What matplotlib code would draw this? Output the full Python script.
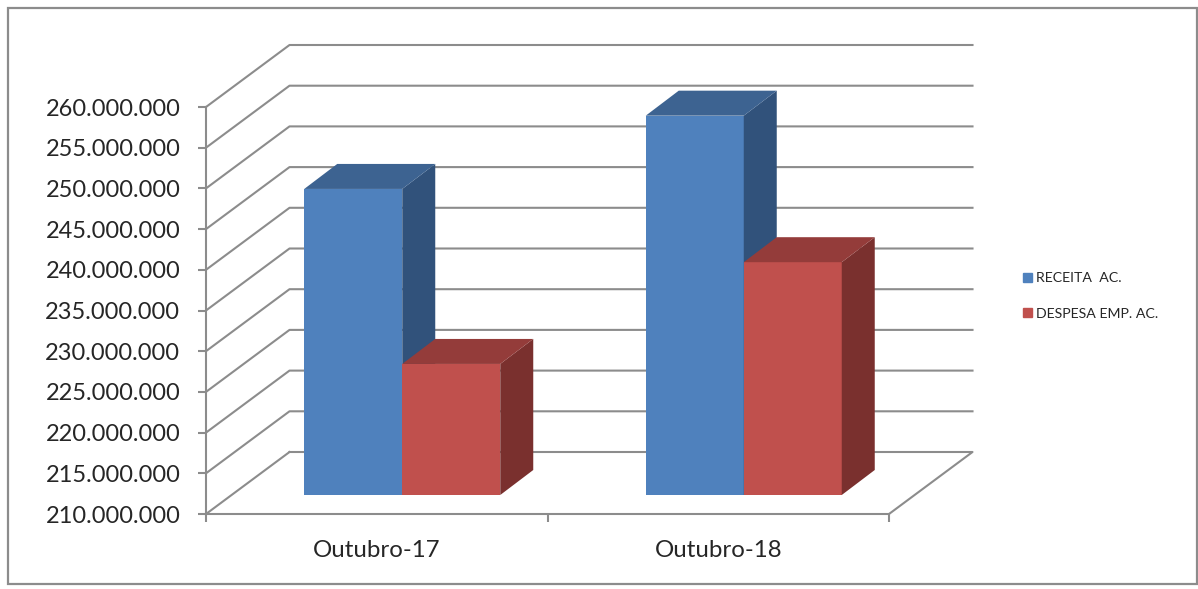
import matplotlib.pyplot as plt
from matplotlib.patches import Rectangle, Patch

# Given data
categories = ['Outubro-17', 'Outubro-18']
receita = [247600000, 256600000]
despesa = [226100000, 238600000]
y_ticks = [210000000 + 5000000 * i for i in range(11)]
y_labels = ['210.000.000', '215.000.000', '220.000.000', '225.000.000', '230.000.000', '235.000.000',
            '240.000.000', '245.000.000', '250.000.000', '255.000.000', '260.000.000']

W, H = 1198, 589
GRAY = '#8c8c8c'
TEXT = '#262626'

plt.rcParams['font.family'] = ['Lato', 'DejaVu Sans']

fig = plt.figure(figsize=(W / 100, H / 100), dpi=100)

# Chart border
fig.add_artist(Rectangle((8 / W, 1 - 584 / H), 1189 / W, 576 / H, transform=fig.transFigure,
                         fill=False, edgecolor=GRAY, linewidth=1.6))

# Front plane of the fake 3D box
ax = fig.add_axes([206 / W, 1 - 514 / H, 683 / W, 407 / H])
ax.set_xlim(0, 2)
ax.set_ylim(210000000, 260000000)
for s in ['top', 'right']:
    ax.spines[s].set_visible(False)
for s in ['left', 'bottom']:
    ax.spines[s].set_color(GRAY)
    ax.spines[s].set_linewidth(1.5)

# Depth of the box and of the bars, in data units
unit_x = 2 / 683
unit_y = 50000000 / 407
depth_x = 83.5 * unit_x
depth_y = 62 * unit_y
bar_x = 25.5 * unit_x
bar_y = 19 * unit_y
bar_dx = 33 * unit_x
bar_dy = 25 * unit_y
bar_w = 98 * unit_x

# Walls
for t in y_ticks:
    if t == y_ticks[0]:
        ax.plot([0, depth_x], [t, t + depth_y], color=GRAY, lw=1.5, clip_on=False, zorder=1)
        ax.plot([depth_x, 2 + depth_x, 2], [t + depth_y, t + depth_y, t], color=GRAY, lw=1.5,
                clip_on=False, zorder=1)
    else:
        ax.plot([0, depth_x, 2 + depth_x], [t, t + depth_y, t + depth_y], color=GRAY, lw=1.5,
                clip_on=False, zorder=1)


# Function to draw one bar with its side and top
def draw_bar(left, value, front, top, side):
    base = y_ticks[0] + bar_y
    right = left + bar_w
    ax.bar(left, value - y_ticks[0], bar_w, bottom=base, align='edge', color=front, zorder=3, clip_on=False)
    ax.fill([right, right + bar_dx, right + bar_dx, right],
            [base, base + bar_dy, value + bar_y + bar_dy, value + bar_y],
            color=side, lw=0, zorder=3, clip_on=False)
    ax.fill([left, left + bar_dx, right + bar_dx, right],
            [value + bar_y, value + bar_y + bar_dy, value + bar_y + bar_dy, value + bar_y],
            color=top, lw=0, zorder=3, clip_on=False)


for i in range(len(categories)):
    left = i + 0.5 + bar_x - bar_w
    draw_bar(left, receita[i], '#4f81bd', '#3d6391', '#31527b')
    draw_bar(left + bar_w, despesa[i], '#c0504d', '#943c3a', '#7a302e')

ax.set_yticks(y_ticks)
ax.set_yticklabels(y_labels, fontsize=17, color=TEXT)
ax.set_xticks([0, 1, 2])
ax.set_xticklabels([])
ax.set_xticks([0.5, 1.5], categories, minor=True, fontsize=17.3, color=TEXT)
ax.tick_params(axis='both', which='major', color=GRAY, width=1.5, length=5.5)
ax.tick_params(axis='y', which='major', pad=13)
ax.tick_params(axis='x', which='minor', length=0, pad=19)

# Legend
handles = [Patch(color='#4f81bd', label='RECEITA  AC.'), Patch(color='#c0504d', label='DESPESA EMP. AC.')]
leg = fig.legend(handles=handles, loc='center left', bbox_to_anchor=(1023 / W, 1 - 296 / H), frameon=False,
                 fontsize=10.2, labelcolor=TEXT, handlelength=0.65, handleheight=0.65, handletextpad=0.3,
                 labelspacing=1.65, borderpad=0, borderaxespad=0)

fig.savefig('out.png', dpi=100)
